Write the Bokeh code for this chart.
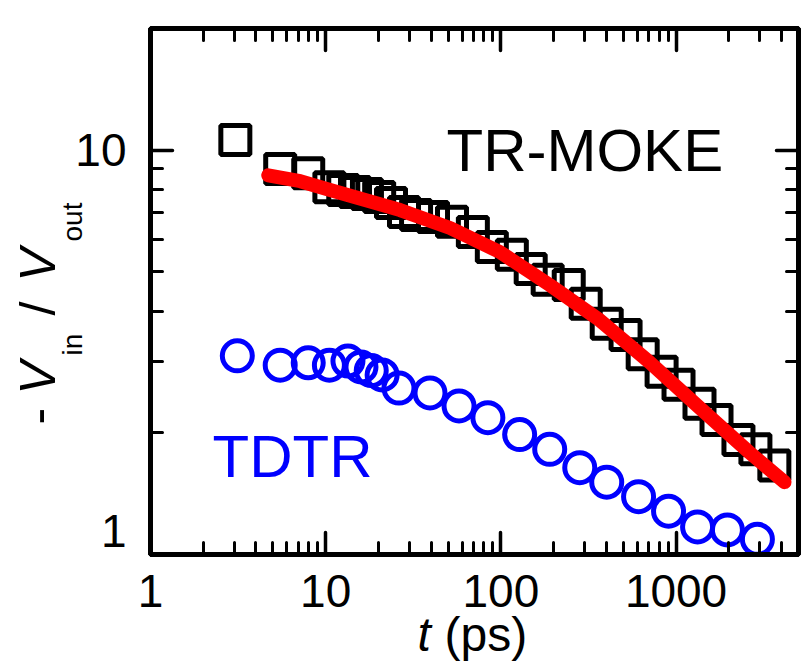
from bokeh.plotting import figure
from bokeh.models import LogAxis, FixedTicker, PrintfTickFormatter, CustomJSTickFormatter, Label, Range1d, Title
from bokeh.embed import file_html
from bokeh.resources import INLINE

# ---- data ----
moke_t = [3.05, 5.5, 7.95, 10.5, 12.6, 14.7, 17.2, 20.2, 23.6, 28.0, 32.8, 41.0, 52.6, 69.2,
          88.8, 115.5, 148, 185, 244, 305, 402, 515, 645, 827, 1033, 1361, 1702, 2271, 2838, 3640]
moke_v = [10.6, 8.98, 8.77, 8.10, 7.97, 7.88, 7.79, 7.66, 7.40, 7.03, 6.91, 6.84, 6.65, 6.28,
          5.76, 5.51, 5.08, 4.78, 4.64, 4.17, 3.72, 3.49, 3.13, 2.83, 2.63, 2.36, 2.15, 1.92, 1.82, 1.66]

tdtr_t = [3.13, 5.5, 7.95, 10.5, 13.4, 15.9, 18.2, 21.0, 26.2, 39.4, 57.7, 84.3, 128, 190,
          282, 402, 611, 906, 1327, 1964, 2913]
tdtr_v = [3.10, 2.94, 2.98, 2.94, 3.01, 2.91, 2.85, 2.78, 2.58, 2.51, 2.33, 2.18, 1.98, 1.82,
          1.64, 1.51, 1.39, 1.28, 1.17, 1.15, 1.09]

fit_t = [4.70, 7.16, 10.6, 16.8, 26.6, 51.3, 98.6, 190, 366, 705, 1358, 2615, 4160]
fit_v = [8.67, 8.38, 7.97, 7.53, 7.11, 6.42, 5.60, 4.64, 3.80, 2.99, 2.31, 1.79, 1.51]

x_major = [1, 10, 100, 1000]
x_minor = [m * d for d in (1, 10, 100, 1000) for m in range(2, 10) if m * d <= 5000]
y_major = [1, 10]
y_minor = [2, 3, 4, 5, 6, 7, 8, 9, 20]

FONT = "Liberation Sans"

p = figure(width=804, height=664, x_axis_type="log", y_axis_type="log",
           x_range=Range1d(1, 5000), y_range=Range1d(1, 20),
           output_backend="svg", toolbar_location=None,
           min_border_left=150, min_border_right=6, min_border_top=28, min_border_bottom=110)
p.grid.visible = False
p.outline_line_color = "black"
p.outline_line_width = 5
p.background_fill_color = "white"
p.border_fill_color = "white"

xt = FixedTicker(ticks=x_major, minor_ticks=x_minor)
yt = FixedTicker(ticks=y_major, minor_ticks=y_minor)

xaxis_b = p.below[0]
yaxis_l = p.left[0]
xaxis_b.ticker = xt
yaxis_l.ticker = yt
xaxis_b.formatter = PrintfTickFormatter(format="%d")
yaxis_l.formatter = PrintfTickFormatter(format="%d")

xaxis_t = LogAxis(ticker=xt)
yaxis_r = LogAxis(ticker=yt)
p.add_layout(xaxis_t, "above")
p.add_layout(yaxis_r, "right")

for ax in (xaxis_b, yaxis_l, xaxis_t, yaxis_r):
    ax.axis_line_width = 5
    ax.axis_line_color = "black"
    ax.major_tick_in = 22
    ax.major_tick_out = 0
    ax.minor_tick_in = 12
    ax.minor_tick_out = 0
    ax.major_tick_line_width = 3.5
    ax.minor_tick_line_width = 3
    ax.major_tick_line_cap = "round"
    ax.minor_tick_line_cap = "round"
    ax.major_label_text_font = FONT
    ax.major_label_text_font_size = "46px"
    ax.major_label_text_color = "black"
    ax.axis_label = None

for ax in (xaxis_t, yaxis_r):
    ax.formatter = CustomJSTickFormatter(code="return ''")
    ax.major_label_standoff = 0

xaxis_b.major_label_standoff = 20
yaxis_l.major_label_standoff = 24
# the "1" label sits a little above the bottom corner, as in the original
yaxis_l.major_label_overrides = {1: "1\n "}
yaxis_l.major_label_text_line_height = 0.9

# ---- glyphs ----
p.scatter(moke_t, moke_v, marker="square", size=29, fill_alpha=0,
          line_color="black", line_width=5)
p.scatter(tdtr_t, tdtr_v, marker="circle", size=30, fill_alpha=0,
          line_color="#0000FF", line_width=5)
p.line(fit_t, fit_v, line_color="#FF0000", line_width=14, line_cap="round", line_join="round")

# ---- in-plot texts ----
def lab(text, x, y, size, color="black"):
    p.add_layout(Label(x=x, y=y, x_units="screen", y_units="screen", text=text,
                       text_font=FONT, text_font_size=size, text_color=color,
                       text_align="left", text_baseline="middle"))

lab("TR-MOKE", 296, 404, "60px")
lab("TDTR", 62, 98, "60px", color="#0000FF")

# ---- axis titles built from side-panel titles ----
def H(px):
    return 1.117 * px

def add_title(text, side, px, offset=0, style="normal", standoff=None):
    if standoff is None:
        standoff = -(2 + H(px))
    p.add_layout(Title(text=text, align="left", vertical_align="middle", offset=offset,
                       standoff=standoff, text_font=FONT, text_font_size=f"{px}px",
                       text_font_style=style, text_color="black"), side)

def add_spacer(side, width):
    add_title(" ", side, 10, standoff=width - 2 - H(10))

# y title: - V_in / V_out
add_title("in", "left", 28, offset=199)
add_title("out", "left", 28, offset=313)
add_spacer("left", 35.1)
add_title("-", "left", 50, offset=130)
add_title("V", "left", 50, offset=160, style="italic")
add_title("/", "left", 50, offset=239)
add_title("V", "left", 50, offset=273, style="italic")

# x title: t (ps)
add_spacer("below", 25)
add_title("t", "below", 48, offset=267, style="italic")
add_title("(ps)", "below", 48, offset=294)

open("out.html", "w").write(file_html(p, INLINE))
